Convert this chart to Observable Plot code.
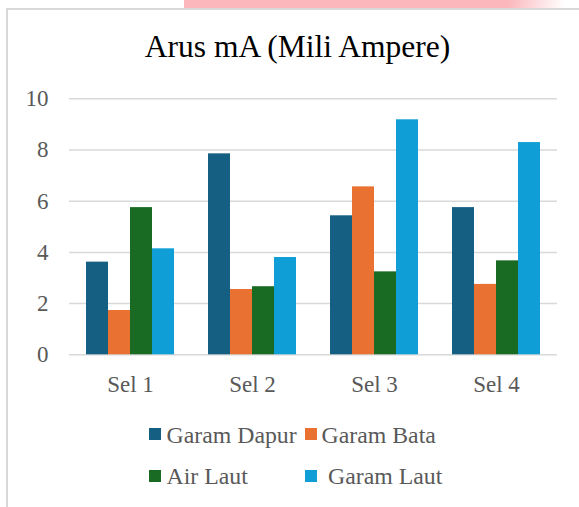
<!DOCTYPE html>
<html>
<head>
<meta charset="utf-8">
<script src="https://cdn.jsdelivr.net/npm/d3@7"></script>
<script src="https://cdn.jsdelivr.net/npm/@observablehq/plot@0.6"></script>
<style>
  html, body { margin: 0; padding: 0; background: #fff; }
  #page { position: relative; width: 579px; height: 507px; overflow: hidden; font-family: "Liberation Serif", "Times New Roman", serif; }
  #pink { position: absolute; left: 184px; top: 0; width: 380px; height: 8px;
          background: linear-gradient(100deg, #fbb7bc 0%, #fbb7bc 85%, rgba(251,183,188,0) 100%); }
  #frame { position: absolute; left: 6px; top: 8px; width: 600px; height: 520px;
           border-left: 2px solid #d9d9d9; border-top: 2px solid #d9d9d9; pointer-events: none; }
  #title { position: absolute; left: 0; width: 595px; top: 31px; text-align: center;
           font-size: 31.5px; color: #000; line-height: 1; }
  #chart { position: absolute; left: 0; top: 0; }
  .leg { position: absolute; font-size: 23.8px; color: #595959; line-height: 1; white-space: pre; }
  .sw { position: absolute; width: 12px; height: 12px; }
</style>
</head>
<body>
<div id="page">
  <div id="pink"></div>
  <div id="chart"></div>
  <div id="frame"></div>
  <div id="title"></div>
  <div id="legend"></div>
</div>
<script>
const title = "Arus mA (Mili Ampere)";
const categories = ["Sel 1", "Sel 2", "Sel 3", "Sel 4"];
const series = ["Garam Dapur", "Garam Bata", "Air Laut", "Garam Laut"];
const colors = ["#156082", "#E97132", "#196B24", "#0F9ED5"];
const garamDapur = [3.62, 7.85, 5.43, 5.75];
const garamBata = [1.73, 2.55, 6.56, 2.75];
const airLaut = [5.75, 2.66, 3.24, 3.67];
const garamLaut = [4.14, 3.80, 9.18, 8.29];
const yTicks = [0, 2, 4, 6, 8, 10];

const valuesBySeries = [garamDapur, garamBata, airLaut, garamLaut];
const data = [];
categories.forEach((c, i) => {
  series.forEach((s, j) => {
    data.push({ sel: c, series: s, value: valuesBySeries[j][i] });
  });
});

document.getElementById("title").textContent = title;

const plot = Plot.plot({
  width: 579,
  height: 410,
  marginLeft: 69,
  marginRight: 22,
  marginTop: 98.3,
  marginBottom: 55.7,
  style: { background: "transparent", fontFamily: "Liberation Serif, Times New Roman, serif", fontSize: "23px", color: "#595959" },
  fx: { domain: categories, padding: 0, axis: "bottom", tickSize: 0, tickPadding: 21, label: null },
  x: { domain: series, paddingInner: 0, paddingOuter: 0.76, axis: null },
  y: { domain: [0, 10], ticks: yTicks, tickSize: 0, tickPadding: 21, label: null, tickFormat: d => String(d) },
  color: { domain: series, range: colors },
  marks: [
    Plot.ruleY(yTicks, { stroke: "#d9d9d9", strokeWidth: 1.5 }),
    Plot.barY(data, { fx: "sel", x: "series", y: "value", fill: "series" })
  ]
});
document.getElementById("chart").appendChild(plot);

// legend
const legendPos = [
  { sx: 149, sy: 428, tx: 166.5, ty: 423.5 },
  { sx: 305, sy: 428, tx: 321.5, ty: 423.5 },
  { sx: 149, sy: 470, tx: 166.5, ty: 464.5 },
  { sx: 305, sy: 470, tx: 328, ty: 464.5 }
];
const leg = document.getElementById("legend");
series.forEach((s, i) => {
  const p = legendPos[i];
  const sw = document.createElement("div");
  sw.className = "sw";
  sw.style.left = p.sx + "px";
  sw.style.top = p.sy + "px";
  sw.style.background = colors[i];
  leg.appendChild(sw);
  const t = document.createElement("div");
  t.className = "leg";
  t.style.left = p.tx + "px";
  t.style.top = p.ty + "px";
  t.textContent = s;
  leg.appendChild(t);
});
</script>
</body>
</html>
